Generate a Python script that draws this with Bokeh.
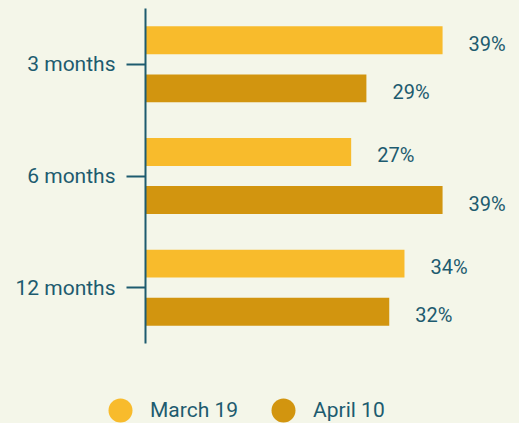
import re
from bokeh.plotting import figure
from bokeh.layouts import column
from bokeh.models import Range1d, FactorRange, ColumnDataSource, Legend, LegendItem
from bokeh.transform import dodge
from bokeh.core.properties import value
from bokeh.embed import file_html
from bokeh.resources import INLINE

# ---- data ----
categories = ["3 months", "6 months", "12 months"]
series_names = ["March 19", "April 10"]
march_19 = [39, 27, 34]
april_10 = [29, 39, 32]

BG = "#F4F6E9"
C_MARCH = "#F8BB2C"
C_APRIL = "#D2950F"
TEAL = "#1D5B6F"
FONT = "Roboto"

src = ColumnDataSource(dict(
    cat=categories,
    march=march_19,
    april=april_10,
    march_lbl=[f"{v}%" for v in march_19],
    april_lbl=[f"{v}%" for v in april_10],
))

# ---- main chart ----
p = figure(
    width=519, height=360,
    y_range=FactorRange(factors=list(reversed(categories))),
    x_range=Range1d(0, 49.1),
    output_backend="svg", toolbar_location=None,
    min_border_left=145, min_border_right=0,
    min_border_top=8, min_border_bottom=17,
    background_fill_color=BG, border_fill_color=BG,
)
p.frame_align = False
p.outline_line_color = None
p.xgrid.grid_line_color = None
p.ygrid.grid_line_color = None
p.xaxis.visible = False

off = 0.215
bar_h = 0.25
y_m = dodge("cat", off, range=p.y_range)
y_a = dodge("cat", -off, range=p.y_range)

p.hbar(y=y_m, right="march", left=0, height=bar_h, source=src,
       fill_color=C_MARCH, line_color=None)
p.hbar(y=y_a, right="april", left=0, height=bar_h, source=src,
       fill_color=C_APRIL, line_color=None)

for xcol, ycol, tcol in (("march", y_m, "march_lbl"), ("april", y_a, "april_lbl")):
    p.text(x=xcol, y=ycol, text=tcol, source=src,
           x_offset=26, y_offset=3.5,
           text_align="left", text_baseline="middle",
           text_font=value(FONT), text_font_size="20px", text_color=TEAL)

ax = p.yaxis[0]
ax.axis_line_color = TEAL
ax.axis_line_width = 2
ax.major_tick_line_color = TEAL
ax.major_tick_line_width = 2
ax.major_tick_out = 19
ax.major_tick_in = 0
ax.minor_tick_line_color = None
ax.major_label_standoff = 11
ax.major_label_text_font = FONT
ax.major_label_text_font_size = "21px"
ax.major_label_text_color = TEAL

# ---- legend strip ----
lg = figure(
    width=519, height=63,
    x_range=Range1d(0, 1), y_range=Range1d(0, 1),
    output_backend="svg", toolbar_location=None,
    x_axis_location=None, y_axis_location=None,
    min_border=0,
    background_fill_color=BG, border_fill_color=BG,
)
lg.frame_align = False
lg.outline_line_color = None
lg.grid.grid_line_color = None

lm = lg.scatter(x="march", y="april", source=src, size=0,
                fill_color=C_MARCH, line_alpha=0)
la = lg.scatter(x="march", y="april", source=src, size=0,
                fill_color=C_APRIL, line_alpha=0)

legend = Legend(
    items=[LegendItem(label=series_names[0], renderers=[lm]),
           LegendItem(label=series_names[1], renderers=[la])],
    orientation="horizontal",
    location=(90, -17),
    glyph_width=60, glyph_height=60,
    label_standoff=0, spacing=15,
    padding=0, margin=0,
    border_line_alpha=0, background_fill_alpha=0,
    label_text_font=FONT, label_text_font_size="21px",
    label_text_color=TEAL,
)
lg.add_layout(legend, "center")

layout = column(p, lg, spacing=0, styles={"background-color": BG})

html = file_html(layout, INLINE)
html = re.sub(r"<body([^>]*)>", lambda m: f'<body{m.group(1)} style="background-color:{BG};">', html, count=1)
open("out.html", "w").write(html)
